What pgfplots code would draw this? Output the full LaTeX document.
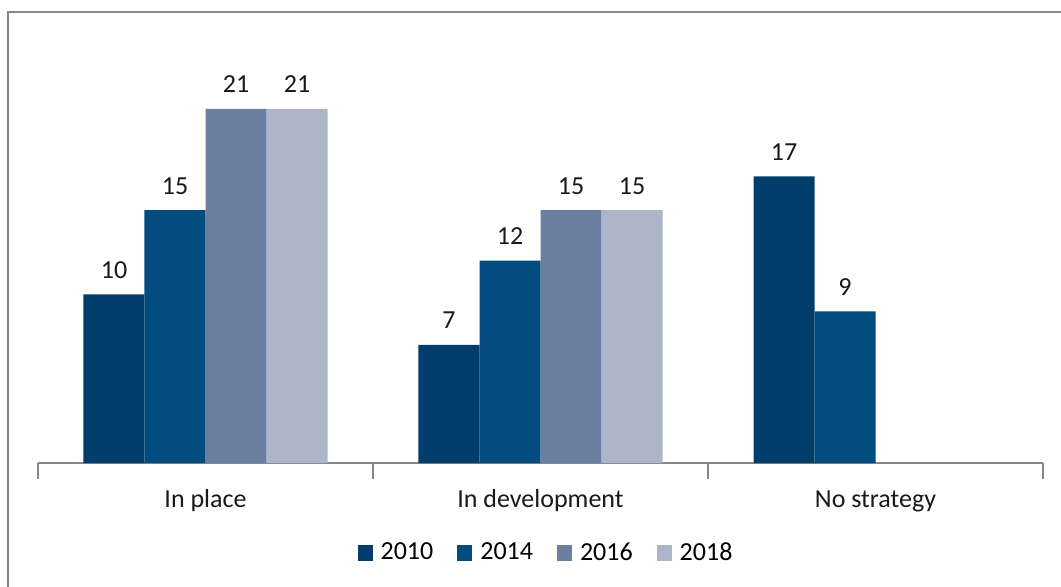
\documentclass[border=0pt]{standalone}
\usepackage{pgfplots}
\pgfplotsset{compat=1.18}
\usepackage{fontspec}
\setmainfont{Carlito}
\definecolor{c2010}{HTML}{023E6B}
\definecolor{c2014}{HTML}{024C80}
\definecolor{c2016}{HTML}{6B7FA1}
\definecolor{c2018}{HTML}{ADB6C9}
\definecolor{axgray}{HTML}{878787}
\begin{document}
\begin{tikzpicture}[font=\fontsize{13}{15}\selectfont]
\useasboundingbox (-19pt,-61.5pt) rectangle (511.5pt,231.5pt);
\draw[axgray, line width=1pt] (-15pt,-90pt) rectangle (540pt,225.5pt);
\begin{axis}[
  at={(0pt,0pt)}, anchor=south west,
  scale only axis, width=502.5pt, height=210.75pt,
  xmin=-0.5, xmax=2.5, ymin=0, ymax=25,
  clip=false,
  /pgf/number format/assume math mode=true,
  ybar=0pt, bar width=30.5pt,
  axis y line=none,
  axis x line*=bottom,
  x axis line style={-, axgray, line width=0.8pt},
  xtick={0,1,2},
  xticklabels={In place, In development, No strategy},
  major tick length=0pt,
  xticklabel style={anchor=base, yshift=-22pt, text=black!90},
  extra x ticks={-0.5,0.5,1.5,2.5},
  extra x tick labels={},
  extra x tick style={major tick length=8pt, tick align=outside, tick style={axgray, line width=0.8pt}},
  nodes near coords,
  every node near coord/.append style={anchor=base, yshift=8pt, text=black!90, font=\fontsize{13}{15}\selectfont},
  legend columns=4,
  legend style={at={(0.5065,-0.2135)}, anchor=center, draw=none, fill=none,
    /tikz/every odd column/.append style={column sep=2pt},
    /tikz/every even column/.append style={column sep=10pt},
    font=\fontsize{13}{15}\selectfont},
  legend image code/.code={\fill[#1] (0pt,-3.75pt) rectangle (7.5pt,3.75pt);},
]
\addplot[fill=c2010, draw=none] coordinates {(0,10) (1,7) (2,17)};
\addplot[fill=c2014, draw=none] coordinates {(0,15) (1,12) (2,9)};
\addplot[fill=c2016, draw=none] coordinates {(0,21) (1,15)};
\addplot[fill=c2018, draw=none] coordinates {(0,21) (1,15)};
\legend{2010,2014,2016,2018}
\end{axis}
\end{tikzpicture}
\end{document}
